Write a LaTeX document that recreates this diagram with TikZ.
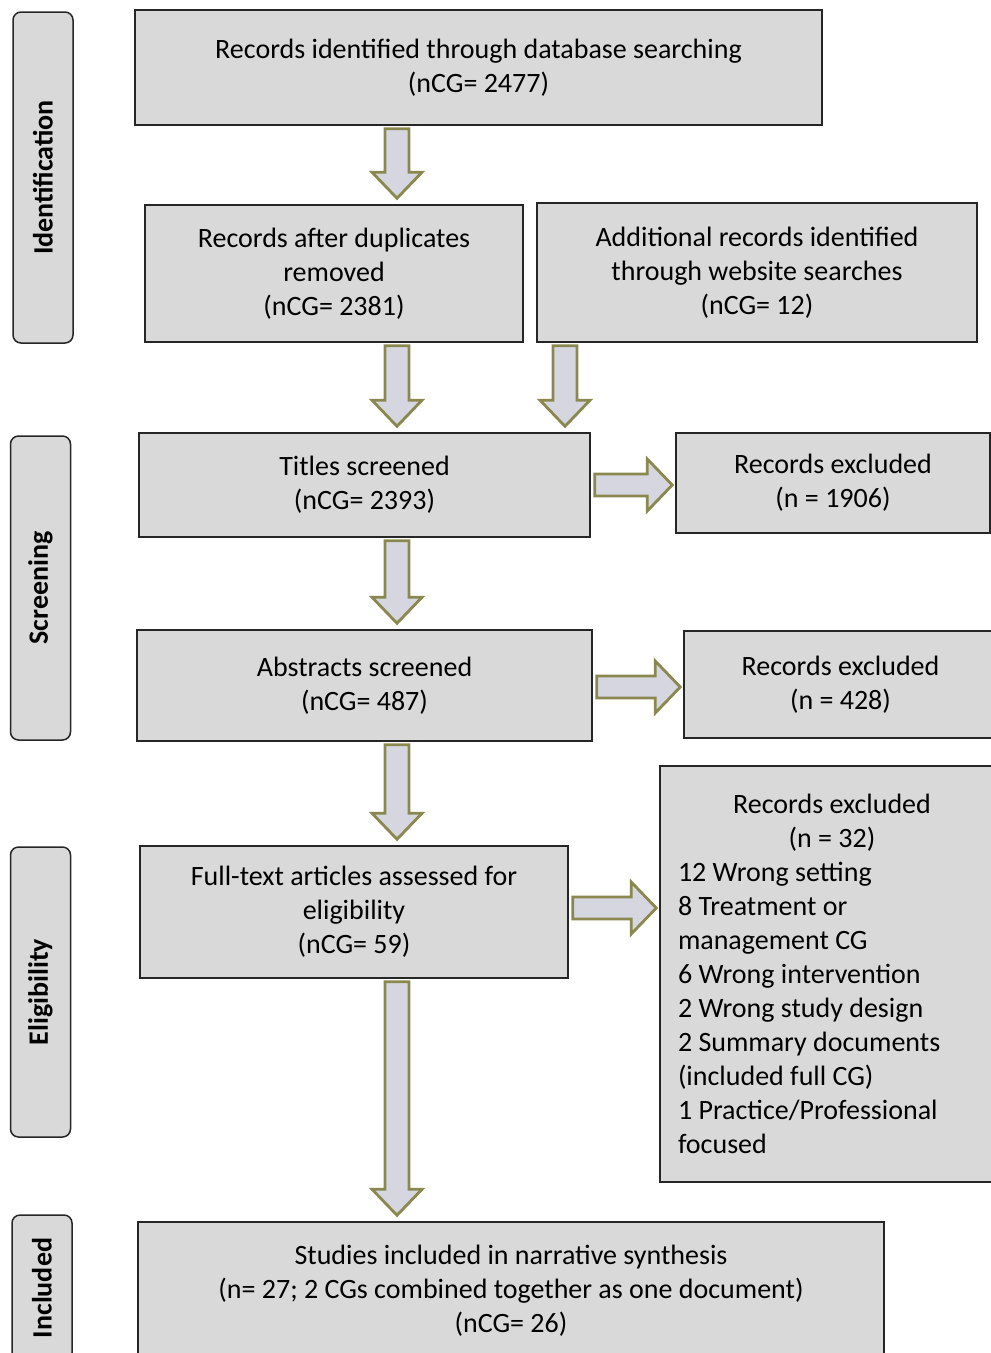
\documentclass[tikz,border=0pt]{standalone}
\usepackage{fontspec}
\setmainfont{Carlito}
\usetikzlibrary{calc,scopes}

\definecolor{boxgray}{RGB}{217,217,217}
\definecolor{arrowfill}{RGB}{214,214,224}
\definecolor{arrowline}{RGB}{138,136,78}

\newcommand\exclw{308pt}

\begin{document}
\begin{tikzpicture}[
    x=1pt, y=-1pt,
    box/.style={rectangle,draw=black!85,fill=boxgray,line width=1.5pt,align=center,inner sep=6pt,font=\fontsize{28}{34}\selectfont},
    phase/.style={rectangle,rounded corners=8pt,draw=black!85,fill=boxgray,line width=1.5pt,rotate=90,minimum height=60pt,font=\bfseries\fontsize{28}{30}\selectfont},
    downarr/.style={draw=arrowline,fill=arrowfill,line width=2.8pt,
        to path={let \p1=(\tikztostart), \p2=(\tikztotarget) in
            (\x1-12pt,\y1-3pt) -- (\x1-12pt,\y2+32pt) -- (\x1-25pt,\y2+32pt) -- (\x1,\y2+6pt)
            -- (\x1+25pt,\y2+32pt) -- (\x1+12pt,\y2+32pt) -- (\x1+12pt,\y1-3pt) -- cycle}},
    rightarr/.style={draw=arrowline,fill=arrowfill,line width=2.8pt,
        to path={let \p1=(\tikztostart), \p2=(\tikztotarget) in
            (\x1+4pt,\y1+11pt) -- (\x2-28pt,\y1+11pt) -- (\x2-28pt,\y1+26pt) -- (\x2-3pt,\y1)
            -- (\x2-28pt,\y1-26pt) -- (\x2-28pt,\y1-11pt) -- (\x1+4pt,\y1-11pt) -- cycle}},
]

\useasboundingbox (0,0) rectangle (991,1353);
\clip (0,0) rectangle (991,1353);

%%%
% phases
\node[phase,minimum width=331pt] (pid) at (43,177.5) {Identification};
\node[phase,minimum width=304pt] (psc) at (40.5,588) {Screening};
\node[phase,minimum width=290pt] (pel) at (40.5,992) {Eligibility};
\node[phase,minimum width=146pt] (pin) at (42,1288) {Included};

%%%
% flow boxes
\node[box,minimum width=687pt,minimum height=115pt] (found) at (478.5,67.5)
    {Records identified through database searching\\(nCG= 2477)};
\node[box,minimum width=378pt,minimum height=137pt] (dedup) at (334,273.5)
    {Records after duplicates\\removed\\(nCG= 2381)};
\node[box,minimum width=440pt,minimum height=139pt] (extra) at (757,272.5)
    {Additional records identified\\through website searches\\(nCG= 12)};
\node[box,minimum width=451pt,minimum height=104pt] (titles) at (364.5,485)
    {Titles screened\\(nCG= 2393)};
\node[box,minimum width=314pt,minimum height=100pt] (exclA) at (833,483)
    {Records excluded\\(n = 1906)};
\node[box,minimum width=455pt,minimum height=111pt] (abstr) at (364.5,685.5)
    {Abstracts screened\\(nCG= 487)};
\node[box,minimum width=313pt,minimum height=107pt] (exclB) at (840.5,684.5)
    {Records excluded\\(n = 428)};
\node[box,minimum width=428pt,minimum height=132pt] (full) at (354,912)
    {Full-text articles assessed for\\eligibility\\(nCG= 59)};
\node[box,align=flush left,text width=\exclw,inner xsep=18pt,minimum height=416pt] (exclC) at (832,974)
    {\makebox[\exclw]{Records excluded}\\\makebox[\exclw]{(n = 32)}\\
     12 Wrong setting\\8 Treatment or\\management CG\\6 Wrong intervention\\
     2 Wrong study design\\2 Summary documents\\(included full CG)\\
     1 Practice/Professional\\focused};
\node[box,minimum width=746pt,minimum height=138pt] (incl) at (511,1291)
    {Studies included in narrative synthesis\\(n= 27; 2 CGs combined together as one document)\\(nCG= 26)};

\coordinate (colA) at (397,0);
\coordinate (colB) at (565,0);

%%%
% block arrows
\draw[downarr] (found.south -| colA) to (dedup.north -| colA);
\draw[downarr] (dedup.south -| colA) to (titles.north -| colA);
\draw[downarr] (extra.south -| colB) to (titles.north -| colB);
\draw[downarr] (titles.south -| colA) to (abstr.north -| colA);
\draw[downarr] (abstr.south -| colA) to (full.north -| colA);
\draw[downarr] (full.south -| colA) to (incl.north -| colA);

\draw[rightarr] (titles.east) to (exclA.west);
\draw[rightarr] ([yshift=-1.5pt]abstr.east) to (exclB.west);
\draw[rightarr] ([yshift=4pt]full.east) to (exclC.west);
\end{tikzpicture}
\end{document}
